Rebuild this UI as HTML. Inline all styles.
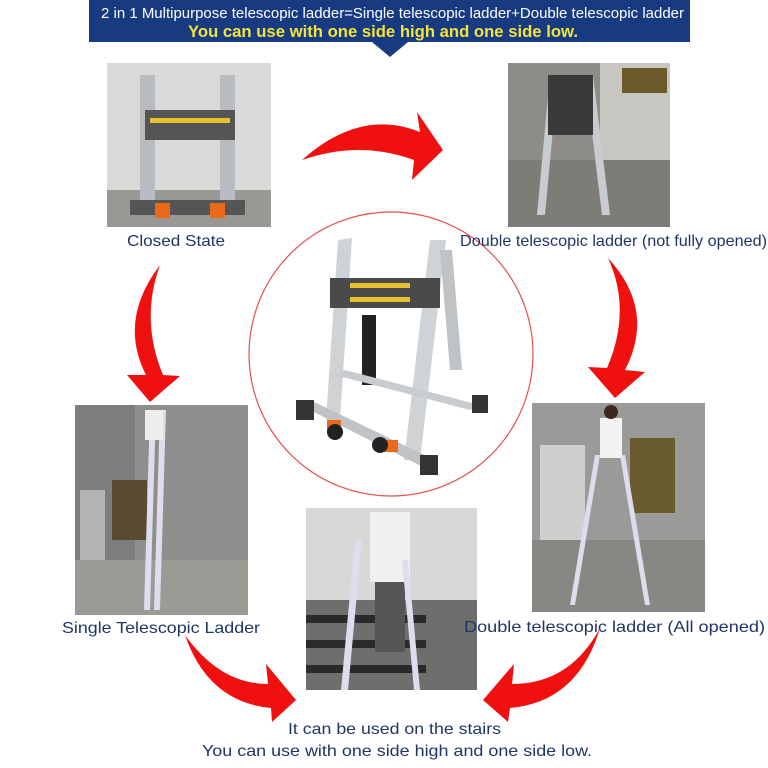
<!DOCTYPE html>
<html><head><meta charset="utf-8"><style>
body{margin:0;background:#fff;}
svg{display:block}
text{font-family:"Liberation Sans",sans-serif;}
</style></head><body>
<svg width="768" height="768" viewBox="0 0 768 768">
<!-- banner -->
<rect x="89" y="0" width="601" height="42" fill="#173a80"/>
<polygon points="372,42 408,42 390,57" fill="#173a80"/>
<text x="101" y="18" font-size="15" fill="#fff" textLength="583" lengthAdjust="spacingAndGlyphs">2 in 1 Multipurpose telescopic ladder=Single telescopic ladder+Double telescopic ladder</text>
<text x="188" y="37" font-size="16.5" font-weight="bold" fill="#f2e43a" textLength="390" lengthAdjust="spacingAndGlyphs">You can use with one side high and one side low.</text>

<!-- photo 1 -->
<rect x="107" y="63" width="164" height="164" fill="#d9d9d7"/>
<rect x="107" y="190" width="164" height="37" fill="#9a9894"/>
<rect x="140" y="75" width="15" height="140" fill="#b8bcc0"/><rect x="220" y="75" width="15" height="140" fill="#b8bcc0"/>
<rect x="145" y="110" width="90" height="30" fill="#555"/><rect x="150" y="118" width="80" height="5" fill="#e8c030"/>
<rect x="130" y="200" width="115" height="15" fill="#555"/><rect x="155" y="203" width="15" height="15" fill="#e86a1a"/><rect x="210" y="203" width="15" height="15" fill="#e86a1a"/>
<text x="127" y="246" font-size="16" fill="#1f3566" textLength="98" lengthAdjust="spacingAndGlyphs">Closed State</text>

<!-- photo 2 -->
<rect x="508" y="63" width="162" height="164" fill="#8d8c87"/>
<rect x="600" y="63" width="70" height="120" fill="#c7c6c0"/>
<rect x="622" y="68" width="45" height="25" fill="#6b5a2a"/>
<rect x="508" y="160" width="162" height="67" fill="#7e7c77"/>
<polygon points="550,75 558,75 545,215 537,215" fill="#c8cccf"/><polygon points="585,75 593,75 610,215 602,215" fill="#c8cccf"/>
<rect x="548" y="75" width="45" height="60" fill="#3a3a3a"/>

<!-- circle -->
<circle cx="391" cy="354" r="142" fill="#fff" stroke="#e55050" stroke-width="1.2"/>
<g>
<polygon points="338,240 352,238 340,420 326,420" fill="#cfd3d6"/>
<polygon points="430,240 446,240 420,460 404,460" fill="#cfd3d6"/>
<polygon points="440,250 452,250 462,370 450,370" fill="#bfc3c6"/>
<rect x="330" y="278" width="110" height="30" fill="#4a4a4a"/>
<rect x="350" y="283" width="60" height="5" fill="#e8c030"/><rect x="350" y="297" width="60" height="5" fill="#e8c030"/>
<rect x="362" y="315" width="14" height="70" fill="#222"/>
<polygon points="300,405 310,400 435,460 425,468" fill="#bfc3c6"/>
<rect x="296" y="400" width="18" height="20" fill="#333"/><rect x="420" y="455" width="18" height="20" fill="#333"/>
<polygon points="335,375 345,370 480,405 470,410" fill="#c8ccd0"/>
<rect x="472" y="395" width="16" height="18" fill="#333"/>
<rect x="327" y="420" width="14" height="12" fill="#e86a1a"/><rect x="384" y="440" width="14" height="12" fill="#e86a1a"/>
<circle cx="335" cy="432" r="8" fill="#222"/><circle cx="380" cy="445" r="8" fill="#222"/>
</g>
<text x="460" y="246" font-size="16" fill="#1f3566" textLength="307" lengthAdjust="spacingAndGlyphs">Double telescopic ladder (not fully opened)</text>

<!-- photo 3 -->
<rect x="75" y="405" width="173" height="210" fill="#8e8e8c"/>
<rect x="75" y="405" width="60" height="210" fill="#7d7e7c"/>
<rect x="80" y="490" width="25" height="70" fill="#b5b5b3"/>
<rect x="112" y="480" width="35" height="60" fill="#5a4a30"/>
<rect x="75" y="560" width="173" height="55" fill="#9b9a95"/>
<polygon points="150,410 156,410 150,610 144,610" fill="#dde"/><polygon points="160,410 166,410 160,610 154,610" fill="#dde"/>
<rect x="145" y="410" width="18" height="30" fill="#eee"/>
<text x="62" y="633" font-size="16" fill="#1f3566" textLength="198" lengthAdjust="spacingAndGlyphs">Single Telescopic Ladder</text>

<!-- photo 4 -->
<rect x="532" y="403" width="173" height="209" fill="#9a9a98"/>
<rect x="540" y="445" width="45" height="95" fill="#cfcfcd"/>
<rect x="630" y="438" width="45" height="75" fill="#6a5a30"/>
<rect x="532" y="540" width="173" height="72" fill="#888783"/>
<polygon points="595,455 600,455 575,605 570,605" fill="#dde"/><polygon points="620,455 625,455 650,605 645,605" fill="#dde"/>
<rect x="600" y="418" width="22" height="40" fill="#f2f2f2"/><circle cx="611" cy="412" r="7" fill="#3a2a20"/>

<!-- photo 5 -->
<rect x="306" y="508" width="171" height="182" fill="#d8d8d6"/>
<rect x="306" y="600" width="171" height="90" fill="#6e6e6c"/>
<g fill="#2a2a2a"><rect x="306" y="615" width="120" height="8"/><rect x="306" y="640" width="120" height="8"/><rect x="306" y="665" width="120" height="8"/></g>
<rect x="370" y="512" width="40" height="70" fill="#f0f0f0"/><rect x="375" y="582" width="30" height="70" fill="#555"/>
<polygon points="355,540 362,540 348,690 341,690" fill="#dde"/><polygon points="402,560 408,560 420,690 414,690" fill="#dde"/>

<text x="464" y="632" font-size="16" fill="#1f3566" textLength="301" lengthAdjust="spacingAndGlyphs">Double telescopic ladder (All opened)</text>

<!-- arrows -->
<g fill="#f01010">
<path d="M302,160 Q360,108 420,132 L417,112 L443,150 L412,180 L414,160 Q360,140 302,160 Z"/>
<path d="M608,258 Q656,310 625,370 L645,372 L615,398 L588,367 L607,368 Q632,310 608,258 Z"/>
<path d="M160,265 Q118,320 146,375 L127,375 L150,402 L180,376 L163,375 Q140,320 160,265 Z"/>
<path d="M185,635 Q220,684 268,684 L266,664 L296,700 L272,722 L271,708 Q208,702 185,635 Z"/>
<path d="M600,628 Q570,684 512,684 L514,664 L483,700 L508,722 L510,708 Q578,702 600,628 Z"/>
</g>

<text x="288" y="734" font-size="16" fill="#1f3566" textLength="213" lengthAdjust="spacingAndGlyphs">It can be used on the stairs</text>
<text x="202" y="756" font-size="16" fill="#1f3566" textLength="390" lengthAdjust="spacingAndGlyphs">You can use with one side high and one side low.</text>
</svg>
</body></html>
